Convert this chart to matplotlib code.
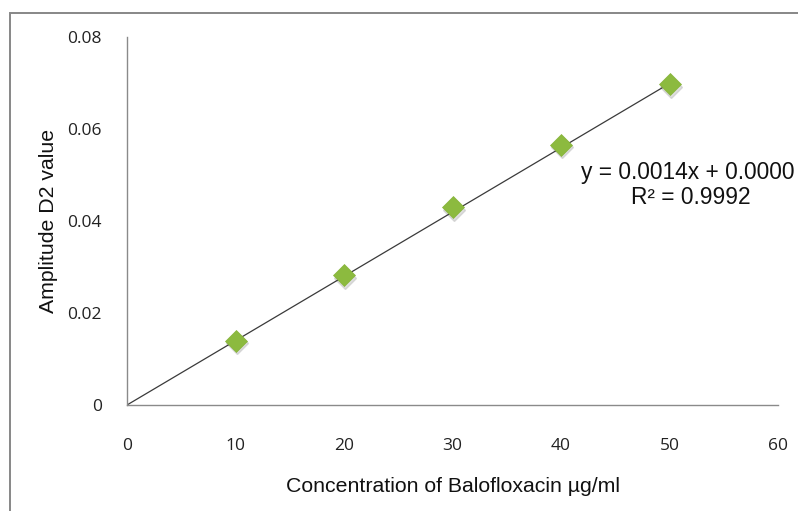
import numpy as np
import matplotlib
matplotlib.use("Agg")
import matplotlib.pyplot as plt
from matplotlib.patches import Rectangle

conc = [10, 20, 30, 40, 50]
amp = [0.0140, 0.0282, 0.0430, 0.0566, 0.0697]
xticks = [0, 10, 20, 30, 40, 50, 60]
yticks = [0, 0.02, 0.04, 0.06, 0.08]
ytick_labels = ["0", "0.02", "0.04", "0.06", "0.08"]
eq_text = "y = 0.0014x + 0.0000"
r2_text = "R² = 0.9992"

fig = plt.figure(figsize=(7.98, 5.11), dpi=100)
fig.patch.set_facecolor("white")
ax = fig.add_axes([127/798, 1-405/511, (778-127)/798, (405-37)/511])

# frame around chart area
fig.patches.append(Rectangle((10/798, -0.05), 1.2, 1-13/511+0.05, transform=fig.transFigure,
                             fill=False, edgecolor="#878787", linewidth=1.4, zorder=0))

# trendline
slope, intercept = np.polyfit(conc, amp, 1)
xl = np.array([0, max(conc)])
ax.plot(xl, slope*xl + 0.0, color="#3a3a3a", linewidth=0.9, zorder=2)

# shadow + markers
ax.plot(np.array(conc), np.array(amp), linestyle="none", marker="D", markersize=11,
        color="#b8b8b8", alpha=0.45, zorder=1,
        transform=ax.transData + matplotlib.transforms.ScaledTranslation(1/100, -2.5/100, fig.dpi_scale_trans))
ax.plot(conc, amp, linestyle="none", marker="D", markersize=11, color="#8cba3f",
        markeredgecolor="#86b33a", markeredgewidth=0.5, zorder=3)

ax.set_xlim(0, 60)
ax.set_ylim(0, 0.08)
ax.set_xticks(xticks)
ax.set_yticks(yticks)
ax.set_yticklabels(ytick_labels)
for s in ["top", "right"]:
    ax.spines[s].set_visible(False)
for s in ["left", "bottom"]:
    ax.spines[s].set_color("#8a8a8a")
    ax.spines[s].set_linewidth(1.0)
ax.tick_params(axis="both", length=0, labelsize=12.5, colors="#222222")
ax.tick_params(axis="y", pad=18)
ax.tick_params(axis="x", pad=24)
for lab in ax.get_xticklabels() + ax.get_yticklabels():
    lab.set_fontfamily("Open Sans")

ax.set_xlabel("Concentration of Balofloxacin µg/ml", fontfamily="Liberation Sans",
              fontsize=15.3, color="#111111", labelpad=16)
ax.set_ylabel("Amplitude D2 value", fontfamily="Liberation Sans",
              fontsize=15.3, color="#111111", labelpad=7)

fig.text(581/798, 1-172/511, eq_text, fontfamily="Liberation Sans", fontsize=16.4,
         color="#111111", ha="left", va="center")
fig.text(691/798, 1-197/511, r2_text, fontfamily="Liberation Sans", fontsize=16.4,
         color="#111111", ha="center", va="center")

fig.savefig("out.png", dpi=100, facecolor="white")
